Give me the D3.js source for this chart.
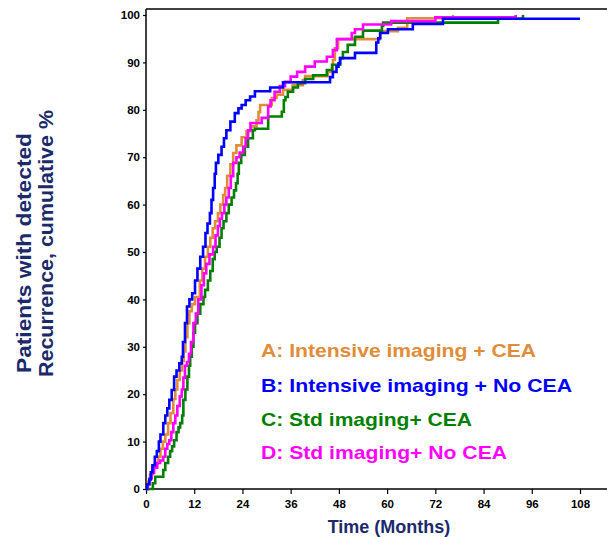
<!DOCTYPE html>
<html><head><meta charset="utf-8">
<script src="https://cdn.jsdelivr.net/npm/d3@7"></script>
<style>body{margin:0;background:#fff}svg{display:block}</style>
</head><body><svg id="c" width="607" height="537"></svg>
<script>
// ---- data (months, cumulative %) ----
const seriesA = [[0,0],[0.5,1.5],[1,3],[1.6,4.5],[2.2,5.5],[3,6.8],[3.6,8.5],[4.2,10],[4.8,11.5],[5.5,13.9],[6.1,16],[6.8,19],[7.3,21],[7.8,23],[8.4,25],[9,27],[9.4,29],[9.8,32],[10.3,35],[10.8,37.5],[11.4,39],[12.2,40.5],[13.4,44],[14,46.5],[14.7,49],[15.4,51.1],[16,53],[16.6,55],[17.2,56.5],[17.9,58.2],[18.5,60],[19.2,62],[19.7,63.5],[20.2,66.1],[21,68.5],[21.7,70.9],[22.5,72.5],[23.8,74.2],[25,75.5],[26.2,76.5],[27.5,77.8],[28,79.5],[28.4,81],[31.3,82.5],[32.5,83.2],[34.1,84.2],[36.5,85.2],[39,86.3],[39.6,87.1],[45.2,88],[46.5,90.5],[47,93],[47.8,94.9],[58.2,96.6],[62.7,97.3],[65,99.3],[76.4,100]];
const seriesB = [[0,0],[0.3,1],[0.8,2],[1.2,3.5],[1.6,5],[2.2,6.8],[2.7,8],[3.2,10],[3.6,11.5],[4.3,13.9],[4.8,15.5],[5.3,17],[5.8,18.8],[6.4,20.9],[7,23.7],[7.6,25],[8.3,26.5],[8.9,27.9],[9.2,31],[9.7,35],[10.2,38.5],[10.8,40],[11.5,41.3],[12.2,44],[12.8,46.5],[13.5,49],[14.2,51.1],[14.8,54],[15.3,56],[15.9,58.2],[16.3,61],[16.7,63.5],[17.1,66.5],[17.4,68.8],[18,70.5],[18.8,72.2],[19.4,74],[20,75.7],[21,77.5],[22.1,79.3],[23,80.3],[23.8,81],[24.8,82],[25.9,82.8],[27.1,83.9],[30.9,84.7],[34.1,85.8],[45.8,86.9],[46.5,88],[47.4,89.1],[47.9,89.8],[48.3,90.9],[52,92],[57.3,94.2],[57.8,95.1],[58.3,96.2],[60.2,97],[66.4,98.1],[73.9,99.2],[108,99.2]];
const seriesC = [[0,0],[1.7,1.2],[2.3,2.6],[4.3,4],[4.8,5.5],[5.5,6.8],[6,8],[6.5,9],[7,10.3],[7.6,12],[8.1,13],[8.5,13.9],[9,15.5],[9.3,18.8],[9.8,21],[10.3,23.7],[10.7,26],[11,27.9],[11.4,30],[11.8,33],[12.2,35],[12.8,37],[13.5,39],[14.3,40.5],[14.7,42],[15.4,44],[16,46],[16.6,48.5],[17.1,50],[17.6,51.1],[18.3,53],[18.8,55],[19.3,56.5],[20,58.2],[20.6,60],[21.3,61.5],[21.9,63],[22.4,64.5],[22.8,66.5],[23.1,68.8],[23.7,70.5],[24.6,72.2],[25.4,74],[26.6,75.7],[27.1,76],[30.4,78.6],[33.8,79.6],[34.3,82],[34.7,82.7],[35.3,83.8],[36.6,84.7],[37.8,85.6],[39.6,86.5],[41.6,87.3],[45,88.4],[46.3,89.5],[48.3,90.9],[49,92.2],[50.2,93.7],[52,95.4],[54,96.7],[58.7,97.7],[59,98.4],[87.6,99.2],[93.8,100]];
const seriesD = [[0,0],[0.4,1],[0.9,2.2],[1.4,3.4],[2,4.5],[2.8,5.5],[3.5,6],[4.3,6.8],[4.8,8.5],[5.3,9.5],[5.8,10.3],[6.3,12],[6.8,13.9],[7.3,15.5],[7.8,17.5],[8.4,19.5],[8.9,21],[9.3,23.5],[9.7,26],[10.2,26.8],[10.7,28.5],[11.2,31],[11.8,35],[12.4,37],[13,40],[13.8,43],[14.4,45.5],[15,47.5],[15.8,49.5],[16.7,51.1],[17.3,53.5],[17.9,55.5],[18.4,57],[18.9,58.2],[19.5,60],[20,61.5],[20.6,63.5],[21.1,66],[21.7,68.8],[22.5,70],[23.3,71],[24.2,72.2],[24.8,74],[25.4,75.7],[26,77.2],[28.8,78.3],[30.4,80.7],[31,82],[32,83.8],[33.3,85],[34.6,85.9],[36,87],[37.6,88],[39.6,89.1],[42,90.2],[45,91.2],[46.5,92.6],[47.5,94.9],[51.2,96.2],[52,97],[54,98],[61,98.7],[72,99.5],[92,100]];
const legendLabels = ["A: Intensive imaging + CEA","B: Intensive imaging + No CEA","C: Std imaging+ CEA","D: Std imaging+ No CEA"];
const seriesColors = ["#E08C38","#0000FF","#008000","#FF00FF"];
const xTicks = [0,12,24,36,48,60,72,84,96,108];
const yTicks = [0,10,20,30,40,50,60,70,80,90,100];
const xTitle = "Time (Months)";
const yTitle = ["Patients with detected","Recurrence, cumulative %"];

// ---- drawing ----
const svg = d3.select("#c");
const font = "'Liberation Sans', Arial, sans-serif";
const x = d3.scaleLinear().domain([0,108]).range([146,580]);
const y = d3.scaleLinear().domain([0,100]).range([489,15]);
const navy = "#1B2A6B";

svg.append("line").attr("x1",146).attr("x2",607).attr("y1",9).attr("y2",9).attr("stroke","#000").attr("stroke-width",1.5);

const xAxis = svg.append("g").attr("transform","translate(0,489)")
  .call(d3.axisBottom(x).tickValues(xTicks).tickSize(5).tickSizeOuter(0));
xAxis.select(".domain").attr("d","M146,0H607").attr("stroke-width",1.5);
xAxis.selectAll("text").attr("font-family",font).attr("font-size",11.5).attr("font-weight","bold").attr("fill","#000").attr("dy","0.95em");
xAxis.selectAll("line").attr("stroke-width",1.2);

const yAxis = svg.append("g").attr("transform","translate(146,0)")
  .call(d3.axisLeft(y).tickValues(yTicks).tickSize(3).tickPadding(3).tickSizeOuter(0));
yAxis.select(".domain").attr("d","M0,9V489").attr("stroke-width",1.5);
yAxis.selectAll("text").attr("font-family",font).attr("font-size",11.5).attr("font-weight","bold").attr("fill","#000");
yAxis.selectAll("line").attr("stroke-width",1.2);

const line = d3.line().x(d=>x(d[0])).y(d=>y(d[1])).curve(d3.curveStepAfter);
const all = [seriesA, seriesB, seriesC, seriesD];
[0,2,3,1].forEach(i=>{
  svg.append("path").attr("d",line(all[i])).attr("fill","none")
    .attr("stroke",seriesColors[i]).attr("stroke-width",2.6).attr("stroke-linejoin","miter");
});

// legend
const legY = [357,392,426,459];
const legW = [275,311,211,246];
legendLabels.forEach((t,i)=>{
  svg.append("text").attr("x",261).attr("y",legY[i]).text(t)
    .attr("textLength",legW[i]).attr("lengthAdjust","spacingAndGlyphs")
    .attr("font-family",font).attr("font-size",19).attr("font-weight","bold").attr("fill",seriesColors[i]);
});

// axis titles
svg.append("text").attr("x",389).attr("y",533).attr("text-anchor","middle").text(xTitle)
  .attr("font-family",font).attr("font-size",18).attr("font-weight","bold").attr("fill",navy);
const yW = [240,267];
const yStart = [373,377];
yTitle.forEach((t,i)=>{
  svg.append("text").attr("transform",`translate(${31+i*22},${yStart[i]}) rotate(-90)`).text(t)
    .attr("textLength",yW[i]).attr("lengthAdjust","spacingAndGlyphs")
    .attr("font-family",font).attr("font-size",20).attr("font-weight","bold").attr("fill",navy);
});
</script></body></html>
